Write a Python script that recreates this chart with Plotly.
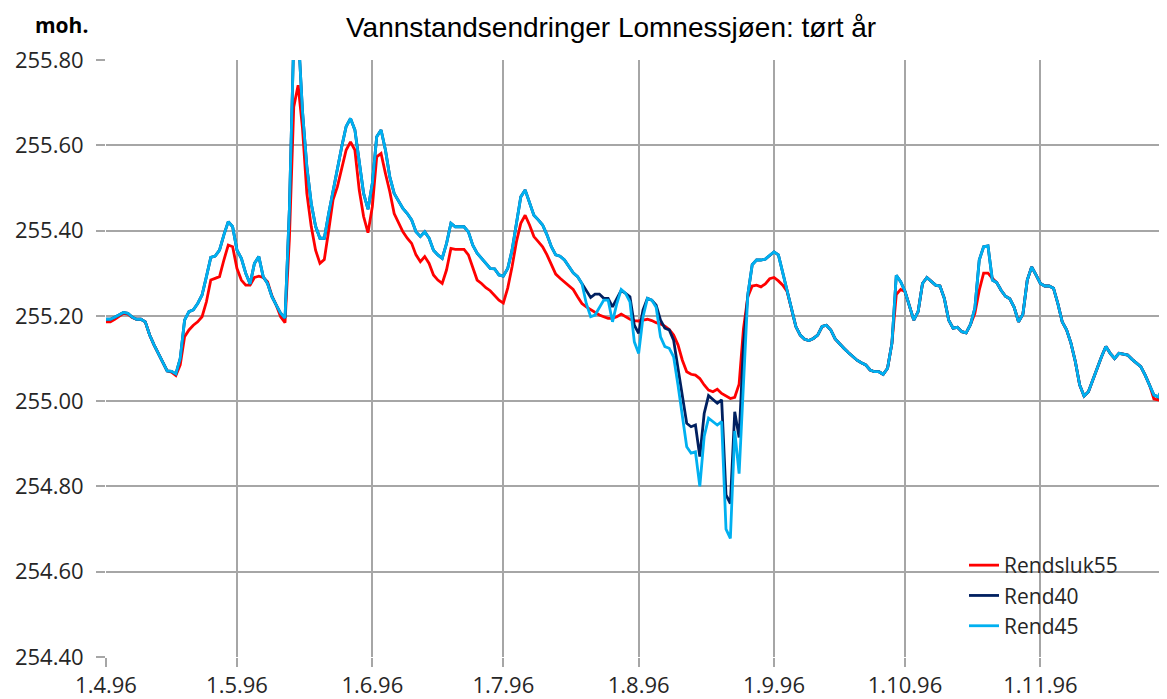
import pandas as pd
import plotly.graph_objects as go

# ---- data (daily water levels, m a.s.l., from 1.4.96) ----
start_date = "1996-04-01"

rendsluk55 = [
    255.186, 255.186, 255.192, 255.200, 255.206, 255.204, 255.196, 255.192, 255.192, 255.186,
    255.155, 255.132, 255.112, 255.093, 255.071, 255.068, 255.060, 255.085, 255.151, 255.167,
    255.178, 255.186, 255.198, 255.233, 255.284, 255.288, 255.292, 255.331, 255.366, 255.362,
    255.311, 255.284, 255.272, 255.272, 255.290, 255.293, 255.290, 255.280, 255.247, 255.225,
    255.198, 255.184, 255.380, 255.690, 255.741, 255.640, 255.487, 255.410, 255.354, 255.323,
    255.332, 255.400, 255.472, 255.503, 255.550, 255.589, 255.608, 255.589, 255.495, 255.433,
    255.395, 255.456, 255.573, 255.581, 255.534, 255.491, 255.440, 255.417, 255.397, 255.382,
    255.370, 255.343, 255.327, 255.339, 255.323, 255.296, 255.284, 255.276, 255.308, 255.358,
    255.356, 255.356, 255.356, 255.343, 255.311, 255.284, 255.276, 255.266, 255.259, 255.249,
    255.237, 255.230, 255.265, 255.315, 255.374, 255.417, 255.436, 255.413, 255.386, 255.374,
    255.362, 255.343, 255.319, 255.298, 255.288, 255.280, 255.272, 255.262, 255.245, 255.229,
    255.221, 255.214, 255.207, 255.202, 255.198, 255.194, 255.194, 255.198, 255.204, 255.198,
    255.192, 255.189, 255.188, 255.190, 255.192, 255.189, 255.184, 255.181, 255.176, 255.168,
    255.155, 255.132, 255.096, 255.069, 255.063, 255.061, 255.053, 255.038, 255.026, 255.022,
    255.028, 255.018, 255.012, 255.006, 255.009, 255.040, 255.170, 255.245, 255.270, 255.272,
    255.268, 255.275, 255.287, 255.290, 255.282, 255.272, 255.257, 255.218, 255.175, 255.155,
    255.145, 255.142, 255.147, 255.155, 255.175, 255.178, 255.167, 255.146, 255.134, 255.124,
    255.114, 255.104, 255.096, 255.090, 255.085, 255.073, 255.069, 255.069, 255.063, 255.077,
    255.136, 255.250, 255.262, 255.257, 255.225, 255.190, 255.210, 255.276, 255.290, 255.282,
    255.272, 255.270, 255.241, 255.190, 255.171, 255.173, 255.163, 255.160, 255.180, 255.206,
    255.260, 255.300, 255.300, 255.288, 255.278, 255.260, 255.246, 255.240, 255.220, 255.186,
    255.204, 255.284, 255.315, 255.296, 255.276, 255.270, 255.270, 255.265, 255.229, 255.186,
    255.167, 255.136, 255.093, 255.038, 255.012, 255.022, 255.050, 255.077, 255.104, 255.128,
    255.112, 255.100, 255.112, 255.110, 255.108, 255.098, 255.089, 255.081, 255.061, 255.038,
    255.005, 255.003, 255.030, 255.034,
]

rend40 = [
    255.192, 255.192, 255.197, 255.202, 255.208, 255.206, 255.197, 255.192, 255.192, 255.186,
    255.155, 255.132, 255.112, 255.093, 255.071, 255.070, 255.064, 255.100, 255.190, 255.210,
    255.214, 255.229, 255.249, 255.292, 255.337, 255.340, 255.354, 255.390, 255.421, 255.409,
    255.354, 255.335, 255.300, 255.275, 255.323, 255.339, 255.292, 255.276, 255.245, 255.225,
    255.206, 255.195, 255.450, 255.850, 255.870, 255.680, 255.550, 255.464, 255.410, 255.382,
    255.382, 255.440, 255.495, 255.546, 255.597, 255.644, 255.663, 255.636, 255.566, 255.487,
    255.450, 255.511, 255.620, 255.636, 255.589, 255.526, 255.487, 255.468, 255.452, 255.440,
    255.425, 255.397, 255.386, 255.397, 255.382, 255.354, 255.343, 255.335, 255.370, 255.417,
    255.409, 255.409, 255.409, 255.397, 255.366, 255.347, 255.335, 255.323, 255.311, 255.310,
    255.296, 255.293, 255.311, 255.354, 255.417, 255.479, 255.495, 255.464, 255.436, 255.425,
    255.413, 255.390, 255.362, 255.343, 255.340, 255.331, 255.315, 255.301, 255.292, 255.276,
    255.257, 255.243, 255.251, 255.251, 255.241, 255.241, 255.221, 255.241, 255.260, 255.253,
    255.245, 255.178, 255.159, 255.214, 255.241, 255.237, 255.225, 255.190, 255.171, 255.167,
    255.143, 255.077, 255.007, 254.948, 254.940, 254.944, 254.870, 254.971, 255.013, 255.003,
    254.995, 255.003, 254.780, 254.760, 254.975, 254.915, 255.130, 255.250, 255.320, 255.331,
    255.331, 255.333, 255.342, 255.350, 255.343, 255.300, 255.257, 255.218, 255.175, 255.155,
    255.145, 255.142, 255.147, 255.155, 255.175, 255.178, 255.167, 255.146, 255.134, 255.124,
    255.114, 255.104, 255.096, 255.090, 255.085, 255.073, 255.069, 255.069, 255.063, 255.077,
    255.136, 255.295, 255.280, 255.257, 255.225, 255.190, 255.210, 255.276, 255.290, 255.282,
    255.272, 255.270, 255.241, 255.190, 255.171, 255.173, 255.163, 255.160, 255.180, 255.218,
    255.331, 255.362, 255.364, 255.284, 255.278, 255.260, 255.246, 255.240, 255.220, 255.186,
    255.204, 255.284, 255.315, 255.296, 255.276, 255.270, 255.270, 255.265, 255.229, 255.186,
    255.167, 255.136, 255.093, 255.038, 255.012, 255.022, 255.050, 255.077, 255.104, 255.128,
    255.112, 255.100, 255.112, 255.110, 255.108, 255.098, 255.089, 255.081, 255.061, 255.038,
    255.014, 255.010, 255.030, 255.034,
]

rend45 = [
    255.192, 255.192, 255.197, 255.202, 255.208, 255.206, 255.197, 255.192, 255.192, 255.186,
    255.155, 255.132, 255.112, 255.093, 255.071, 255.070, 255.064, 255.100, 255.190, 255.210,
    255.214, 255.229, 255.249, 255.292, 255.337, 255.340, 255.354, 255.390, 255.421, 255.409,
    255.354, 255.335, 255.300, 255.275, 255.323, 255.339, 255.292, 255.276, 255.245, 255.225,
    255.206, 255.195, 255.450, 255.850, 255.870, 255.680, 255.550, 255.464, 255.410, 255.382,
    255.382, 255.440, 255.495, 255.546, 255.597, 255.644, 255.663, 255.636, 255.566, 255.487,
    255.450, 255.511, 255.620, 255.636, 255.589, 255.526, 255.487, 255.468, 255.452, 255.440,
    255.425, 255.397, 255.386, 255.397, 255.382, 255.354, 255.343, 255.335, 255.370, 255.417,
    255.409, 255.409, 255.409, 255.397, 255.366, 255.347, 255.335, 255.323, 255.311, 255.310,
    255.296, 255.293, 255.311, 255.354, 255.417, 255.479, 255.495, 255.464, 255.436, 255.425,
    255.413, 255.390, 255.362, 255.343, 255.340, 255.331, 255.315, 255.301, 255.292, 255.276,
    255.229, 255.198, 255.202, 255.218, 255.237, 255.237, 255.186, 255.229, 255.262, 255.253,
    255.233, 255.139, 255.112, 255.198, 255.241, 255.237, 255.220, 255.151, 255.128, 255.124,
    255.104, 255.038, 254.963, 254.893, 254.878, 254.881, 254.800, 254.917, 254.960, 254.952,
    254.944, 254.952, 254.700, 254.678, 254.930, 254.830, 255.040, 255.250, 255.320, 255.331,
    255.331, 255.333, 255.342, 255.350, 255.343, 255.300, 255.257, 255.218, 255.175, 255.155,
    255.145, 255.142, 255.147, 255.155, 255.175, 255.178, 255.167, 255.146, 255.134, 255.124,
    255.114, 255.104, 255.096, 255.090, 255.085, 255.073, 255.069, 255.069, 255.063, 255.077,
    255.136, 255.295, 255.280, 255.257, 255.225, 255.190, 255.210, 255.276, 255.290, 255.282,
    255.272, 255.270, 255.241, 255.190, 255.171, 255.173, 255.163, 255.160, 255.180, 255.218,
    255.331, 255.362, 255.364, 255.284, 255.278, 255.260, 255.246, 255.240, 255.220, 255.186,
    255.204, 255.284, 255.315, 255.296, 255.276, 255.270, 255.270, 255.265, 255.229, 255.186,
    255.167, 255.136, 255.093, 255.038, 255.012, 255.022, 255.050, 255.077, 255.104, 255.128,
    255.112, 255.100, 255.112, 255.110, 255.108, 255.098, 255.089, 255.081, 255.061, 255.038,
    255.014, 255.010, 255.030, 255.034,
]

tick_dates = ["1996-04-01", "1996-05-01", "1996-06-01", "1996-07-01",
              "1996-08-01", "1996-09-01", "1996-10-01", "1996-11-01"]
tick_labels = ["1.4.96", "1.5.96", "1.6.96", "1.7.96", "1.8.96", "1.9.96", "1.10.96", "1.11.96"]
y_ticks = [254.40, 254.60, 254.80, 255.00, 255.20, 255.40, 255.60, 255.80]

series = [("Rendsluk55", rendsluk55, "#FF0000"),
          ("Rend40", rend40, "#002060"),
          ("Rend45", rend45, "#00B0F0")]

dates = pd.date_range(start_date, periods=len(rend45), freq="D")

# page is offset by the 8px body margin -> compensate
OFF = 8
PL, PR, PT, PB = 106, 1167, 60, 657          # plot area in page pixels
W, H = 1167 - OFF, 699 - OFF
pw, ph = PR - PL, PB - PT


def px(x):
    return (x - PL) / pw


def py(y):
    return (PB - y) / ph


fig = go.Figure()
for name, vals, col in series:
    fig.add_trace(go.Scatter(x=dates, y=vals, mode="lines", name=name,
                             line=dict(color=col, width=2.8)))

grid = "#A6A6A6"
FONT = "Open Sans, Calibri, sans-serif"
tick_font = dict(family=FONT, size=22, color="#262626")

fig.update_layout(
    width=W, height=H,
    margin=dict(l=PL - OFF, r=0, t=PT - OFF, b=H - (PB - OFF)),
    paper_bgcolor="white", plot_bgcolor="white",
    showlegend=True,
    legend=dict(x=px(964), y=py(545), xanchor="left", yanchor="top",
                bgcolor="rgba(0,0,0,0)",
                font=dict(family=FONT, size=21, color="#262626"),
                tracegroupgap=0),
    shapes=[dict(type="rect", xref="paper", yref="paper",
                 x0=px(928), x1=px(1143), y0=py(641), y1=py(548),
                 fillcolor="white", line=dict(width=0), layer="below")],
    annotations=[
        dict(text="Vannstandsendringer Lomnessjøen: tørt år", x=px(611), y=py(28),
             xref="paper", yref="paper", xanchor="center", yanchor="middle",
             showarrow=False,
             font=dict(family="Liberation Sans, Arial, sans-serif", size=28, color="#000000")),
        dict(text="<b>moh.</b>", x=px(61), y=py(25), xref="paper", yref="paper",
             xanchor="center", yanchor="middle", showarrow=False,
             font=dict(family=FONT, size=21, color="#000000")),
    ],
)

fig.update_xaxes(
    type="date", range=["1996-04-01", "1996-11-30"],
    tickvals=tick_dates, ticktext=tick_labels,
    showgrid=True, gridcolor=grid, gridwidth=1.5,
    ticks="outside", ticklen=9, tickcolor=grid, tickwidth=1.5,
    tickfont=tick_font, ticklabelstandoff=0,
    showline=False, zeroline=False, automargin=False,
)
fig.update_yaxes(
    range=[254.40, 255.80], tickvals=y_ticks, tickformat=".2f",
    showgrid=True, gridcolor=grid, gridwidth=1.5,
    ticks="outside", ticklen=9, tickcolor=grid, tickwidth=1.5,
    tickfont=tick_font, ticklabelstandoff=8,
    showline=False, zeroline=False, automargin=False,
)

fig.write_html("out.html")
